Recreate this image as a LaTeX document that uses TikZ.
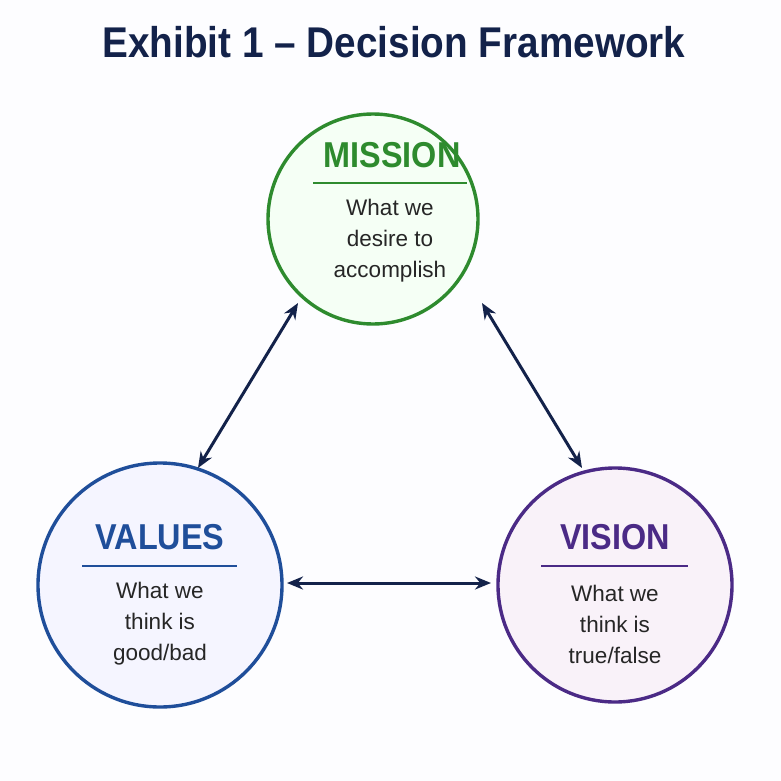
\documentclass[tikz,border=0pt]{standalone}
\usepackage{fontspec}
\setmainfont{Liberation Sans}
\usetikzlibrary{arrows.meta}
\definecolor{navy}{HTML}{13224A}
\definecolor{mgreen}{HTML}{2E8B2E}
\definecolor{mblue}{HTML}{1F4E9A}
\definecolor{mpurple}{HTML}{4B2A86}
\begin{document}
\begin{tikzpicture}[x=1pt,y=-1pt,
  circ/.style={circle,line width=3.4pt,minimum size=#1,inner sep=0pt},
  lab/.style={font=\fontsize{36}{38}\selectfont\bfseries,xscale=0.9},
  body/.style={font=\fontsize{22.5}{31}\selectfont,text=black!85,align=center},
  rule/.style={line width=1.6pt},
  arr/.style={{Stealth[length=16pt,width=13pt]}-{Stealth[length=16pt,width=13pt]},line width=3pt,navy}]
\fill[white!96!blue!20] (0,0) rectangle (781,781);
\useasboundingbox (0,0) rectangle (781,781);
\node[font=\fontsize{43}{45}\selectfont\bfseries,text=navy,xscale=0.9] (title) at (394,42) {Exhibit 1 – Decision Framework};
\node[circ=210pt,draw=mgreen,fill=green!4] (mission) at (373,219) {};
\node[circ=244pt,draw=mblue,fill=blue!4] (values) at (160,585) {};
\node[circ=234pt,draw=mpurple,fill=violet!5] (vision) at (615,585) {};
\node[lab,text=mgreen] (ml) at (392,155) {MISSION};
\draw[rule,mgreen] (313,183) -- (467,183);
\node[body] (mt) at (390,241) {What we\\desire to\\accomplish};
\node[lab,text=mblue] (vl) at (160,537) {VALUES};
\draw[rule,mblue] (82,566) -- (237,566);
\node[body] (vt) at (160,624) {What we\\think is\\good/bad};
\node[lab,text=mpurple] (sl) at (615,537) {VISION};
\draw[rule,mpurple] (541,566) -- (688,566);
\node[body] (st) at (615,624) {What we\\think is\\true/false};
\coordinate (a1) at (298,303); \coordinate (a2) at (198,468);
\coordinate (b1) at (482,303); \coordinate (b2) at (582,468);
\coordinate (c1) at (287,583); \coordinate (c2) at (491,583);
\draw[arr] (a1) -- (a2);
\draw[arr] (b1) -- (b2);
\draw[arr] (c1) -- (c2);
\end{tikzpicture}
\end{document}
